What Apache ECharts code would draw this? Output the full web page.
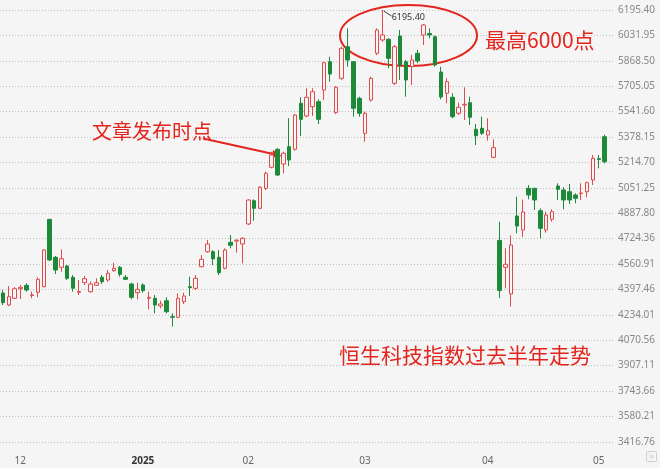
<!DOCTYPE html>
<html>
<head>
<meta charset="utf-8">
<script src="https://cdn.jsdelivr.net/npm/echarts@6/dist/echarts.min.js"></script>
<style>
html,body{margin:0;padding:0;background:#f5f5f5;}
#c{width:660px;height:468px;}
</style>
</head>
<body>
<div id="c"></div>
<script>
// ---- categories: trading days ----
const dates = [
  '2024-11-28','2024-11-29',
  '2024-12-02','2024-12-03','2024-12-04','2024-12-05','2024-12-06','2024-12-09','2024-12-10','2024-12-11','2024-12-12','2024-12-13',
  '2024-12-16','2024-12-17','2024-12-18','2024-12-19','2024-12-20','2024-12-23','2024-12-24','2024-12-27','2024-12-30','2024-12-31',
  '2025-01-02','2025-01-03','2025-01-06','2025-01-07','2025-01-08','2025-01-09','2025-01-10','2025-01-13','2025-01-14','2025-01-15',
  '2025-01-16','2025-01-17','2025-01-20','2025-01-21','2025-01-22','2025-01-23','2025-01-24','2025-01-27','2025-01-28',
  '2025-02-03','2025-02-04','2025-02-05','2025-02-06','2025-02-07','2025-02-10','2025-02-11','2025-02-12','2025-02-13','2025-02-14',
  '2025-02-17','2025-02-18','2025-02-19','2025-02-20','2025-02-21','2025-02-24','2025-02-25','2025-02-26','2025-02-27','2025-02-28',
  '2025-03-03','2025-03-04','2025-03-05','2025-03-06','2025-03-07','2025-03-10','2025-03-11','2025-03-12','2025-03-13','2025-03-14',
  '2025-03-17','2025-03-18','2025-03-19','2025-03-20','2025-03-21','2025-03-24','2025-03-25','2025-03-26','2025-03-27','2025-03-28','2025-03-31',
  '2025-04-01','2025-04-02','2025-04-03','2025-04-07','2025-04-08','2025-04-09','2025-04-10','2025-04-11','2025-04-14','2025-04-15',
  '2025-04-16','2025-04-17','2025-04-22','2025-04-23','2025-04-24','2025-04-25','2025-04-28','2025-04-29','2025-04-30',
  '2025-05-02','2025-05-06','2025-05-07'
];

// ---- series values: [open, close, lowest, highest] ----
const ohlc = [
  [4374.3,4311.9,4297.0,4393.6],[4297.1,4350.5,4290.6,4419.3],[4340.2,4402.0,4335.7,4412.9],[4402.0,4411.0,4335.7,4425.8],
  [4423.8,4393.6,4382.7,4436.7],[4358.2,4362.7,4340.2,4382.7],[4378.8,4462.4,4346.6,4475.4],[4414.8,4651.0,4410.9,4655.5],
  [4848.5,4586.7,4580.0,4850.0],[4603.9,4522.3,4496.6,4612.4],[4539.7,4595.0,4511.4,4655.5],[4548.0,4468.9,4458.0,4554.5],
  [4475.4,4404.5,4382.7,4490.1],[4378.8,4384.0,4361.4,4458.0],[4440.6,4466.4,4425.8,4483.7],[4382.7,4432.2,4376.2,4447.0],
  [4423.8,4440.6,4419.3,4468.9],[4475.4,4447.0,4432.2,4490.1],[4458.0,4501.0,4447.0,4522.3],[4517.8,4533.3,4511.4,4569.3],
  [4539.7,4494.6,4479.2,4548.0],[4475.4,4462.4,4458.0,4490.1],[4432.2,4346.6,4333.8,4440.6],[4376.2,4398.1,4333.8,4440.6],
  [4425.8,4389.1,4376.2,4436.7],[4340.2,4346.6,4269.4,4382.7],[4340.2,4297.1,4243.6,4361.4],[4290.6,4303.5,4275.8,4324.7],
  [4324.7,4253.9,4243.6,4346.6],[4222.1,4218.2,4158.0,4243.6],[4218.2,4340.2,4211.8,4372.3],[4318.3,4355.0,4303.5,4376.2],
  [4414.8,4408.4,4355.0,4479.2],[4404.5,4468.9,4393.6,4490.1],[4543.6,4591.1,4539.7,4618.8],[4640.1,4689.6,4633.7,4715.4],
  [4640.1,4593.8,4554.5,4651.0],[4603.9,4504.9,4490.1,4651.0],[4533.3,4651.0,4526.8,4661.9],[4700.5,4681.2,4661.9,4747.5],
  [4708.9,4714.0,4633.7,4719.9],[4689.6,4726.2,4565.4,4732.7],[4818.3,4972.8,4811.9,4977.3],[4968.3,4919.3,4839.5,4977.3],
  [4919.3,5054.5,4912.9,5062.8],[5048.0,5144.5,5037.1,5154.9],[5183.2,5262.3,5176.7,5283.6],[5299.0,5133.6,5127.2,5305.5],
  [5204.4,5273.2,5144.5,5283.6],[5315.7,5230.1,5191.5,5498.5],[5299.0,5519.7,5290.0,5526.2],[5595.0,5492.0,5384.6,5633.6],
  [5513.3,5633.6,5504.9,5691.5],[5573.1,5669.7,5513.3,5691.5],[5605.3,5492.0,5461.8,5620.7],[5680.6,5856.3,5616.3,5862.7],
  [5862.7,5783.6,5734.0,5894.9],[5534.5,5697.9,5526.2,5706.3],[5755.9,5948.9,5745.0,5959.2],[5959.2,5873.7,5830.5,6077.6],
  [5862.7,5562.8,5508.8,5865.0],[5627.2,5530.7,5508.8,5637.5],[5401.9,5530.7,5347.9,5541.0],[5616.3,5755.9,5605.3,5766.2],
  [5916.8,6066.7,5905.8,6077.6],[6002.4,6034.6,5991.4,6195.4],[6006.9,5884.6,5820.2,6013.3],[5723.7,5959.2,5712.8,5970.2],
  [6028.1,5841.5,5745.0,6066.7],[5862.7,5745.0,5637.5,5873.7],[5830.5,5873.7,5712.8,5905.8],[5916.8,5867.2,5852.4,5938.0],
  [6034.6,6098.9,5970.2,6105.3],[6044.2,6034.6,6013.3,6077.6],[6023.6,5841.5,5830.5,6031.3],[5796.4,5635.6,5620.7,5830.5],
  [5659.4,5734.0,5595.0,5755.9],[5633.6,5508.8,5498.5,5659.4],[5530.7,5569.4,5519.7,5598.9],[5584.1,5588.6,5487.6,5697.9],
  [5598.9,5504.9,5455.4,5637.5],[5427.7,5386.5,5326.7,5461.8],[5434.1,5401.9,5391.0,5508.8],[5391.0,5418.7,5354.3,5498.5],
  [5247.5,5309.3,5241.1,5363.4],[4712.1,4390.4,4342.1,4833.1],[4539.7,4559.0,4404.5,4661.9],[4367.9,4683.2,4287.4,4744.3],
  [4869.8,4805.4,4758.4,4994.0],[4779.7,4895.5,4734.6,4975.9],[5048.0,5004.9,4977.3,5069.2],[5048.0,4972.8,4908.4,5050.0],
  [4903.9,4790.6,4726.2,4919.3],[4779.7,4876.2,4762.3,4897.5],[4848.5,4897.5,4833.1,4912.9],[5062.8,5041.6,4972.8,5080.2],
  [5037.1,4972.8,4912.9,5054.5],[5026.1,4972.8,4947.0,5075.7],[5004.9,4983.7,4951.5,5015.8],[5013.9,5017.8,4972.8,5080.2],
  [5026.1,5084.1,4990.1,5090.5],[5101.5,5241.1,5069.2,5262.3],[5238.5,5233.4,5176.7,5262.3],[5380.0,5219.2,5208.9,5393.0]
];

// ---- tick labels (price axis, bottom to top) ----
const yTickLabels = ['3416.76','3580.21','3743.66','3907.11','4070.56','4234.01','4397.46','4560.91','4724.36',
  '4887.80','5051.25','5214.70','5378.15','5541.60','5705.05','5868.50','6031.95','6195.40'];
const yMin = 3416.76, yMax = 6195.40;

// ---- texts ----
const titleText = '恒生科技指数过去半年走势';
const peakNote = '最高6000点';
const publishNote = '文章发布时点';

const BG = '#f5f5f5';
const RED = '#e3251d';
const UP = '#e04a4a';
const DOWN = '#1d8a3a';

const N = dates.length;
const step = 5.865, firstX = 0.5;
const gridTop = 10, gridH = 431.8;

function isMonthStart(i) {
  return i > 0 && dates[i].slice(5, 7) !== dates[i - 1].slice(5, 7);
}

const chart = echarts.init(document.getElementById('c'), null, {renderer: 'canvas'});
chart.setOption({
  animation: false,
  backgroundColor: BG,
  grid: [
    {left: firstX - step / 2, top: gridTop, width: step * N, height: gridH},
    {left: 0, top: gridTop, width: 613, height: gridH}
  ],
  xAxis: [
    {
      type: 'category', gridIndex: 0, data: dates, boundaryGap: true,
      axisLine: {show: false}, axisTick: {show: false}, splitLine: {show: false},
      axisLabel: {
        interval: function (i) { return isMonthStart(i); },
        formatter: function (v) {
          const m = v.slice(5, 7);
          return m === '01' ? '{y|' + v.slice(0, 4) + '}' : m;
        },
        align: 'left', margin: 14, color: '#666', fontSize: 10, fontFamily: 'Noto Sans',
        rich: {y: {color: '#333', fontSize: 10, fontWeight: 'bold', fontFamily: 'Noto Sans'}}
      }
    },
    {type: 'value', gridIndex: 1, show: false, min: 0, max: 1}
  ],
  yAxis: [
    {type: 'value', gridIndex: 0, min: yMin, max: yMax, show: false},
    {
      type: 'category', gridIndex: 1, data: yTickLabels, boundaryGap: false, position: 'right',
      axisLine: {show: false}, axisTick: {show: false},
      axisLabel: {interval: 0, color: '#888', fontSize: 10, margin: 5, fontFamily: 'Noto Sans'},
      splitLine: {show: true, interval: 0, lineStyle: {type: [1, 2], color: '#bdbdbd', width: 1}}
    }
  ],
  series: [{
    type: 'candlestick', xAxisIndex: 0, yAxisIndex: 0, data: ohlc, barWidth: 4,
    itemStyle: {color: BG, color0: DOWN, borderColor: UP, borderColor0: DOWN, borderWidth: 1}
  }]
});

// annotations
const peakIdx = ohlc.reduce((b, d, i) => d[3] > ohlc[b][3] ? i : b, 0);
const pk = chart.convertToPixel({xAxisIndex: 0, yAxisIndex: 0}, [peakIdx, ohlc[peakIdx][3]]);
const tip = [282, 156], tail = [203, 138.5];
const dx = tip[0] - tail[0], dy = tip[1] - tail[1], L = Math.hypot(dx, dy);
const ux = dx / L, uy = dy / L, px = -uy, py = ux;
const hl = 10, hw = 4;
const bx = tip[0] - hl * ux, by = tip[1] - hl * uy;

chart.setOption({
  graphic: [
    {type: 'ellipse', shape: {cx: 408.5, cy: 35.5, rx: 68.5, ry: 30.5}, style: {fill: 'none', stroke: RED, lineWidth: 2}, silent: true},
    {type: 'text', x: 485, y: 40, style: {text: peakNote, fill: RED, font: '21px "Noto Sans CJK SC"', verticalAlign: 'middle', align: 'left'}},
    {type: 'text', x: 92, y: 131, style: {text: publishNote, fill: RED, font: '20px "Noto Sans CJK SC"', verticalAlign: 'middle', align: 'left'}},
    {type: 'text', x: 339, y: 355, style: {text: titleText, fill: RED, font: '21px "Noto Sans CJK SC"', verticalAlign: 'middle', align: 'left'}},
    {type: 'line', shape: {x1: tail[0], y1: tail[1], x2: bx, y2: by}, style: {stroke: RED, lineWidth: 2}},
    {type: 'polygon', shape: {points: [tip, [bx + hw * px, by + hw * py], [bx - hw * px, by - hw * py]]}, style: {fill: RED}},
    {type: 'line', shape: {x1: pk[0] + 1, y1: pk[1] + 1, x2: pk[0] + 9, y2: pk[1] + 6}, style: {stroke: '#444', lineWidth: 1}},
    {type: 'text', x: pk[0] + 9, y: pk[1] + 7, style: {text: String(ohlc[peakIdx][3].toFixed(2)), fill: '#333', font: '9px "Noto Sans"', verticalAlign: 'middle', align: 'left'}},
    {type: 'rect', shape: {x: 646.5, y: 451.5, width: 10, height: 10, r: 1}, style: {fill: 'none', stroke: '#d0d0d0', lineWidth: 1}},
    {type: 'text', x: 651.5, y: 456.5, style: {text: '»', fill: '#c8c8c8', font: '9px "Noto Sans"', verticalAlign: 'middle', align: 'center'}}
  ]
});
</script>
</body>
</html>
